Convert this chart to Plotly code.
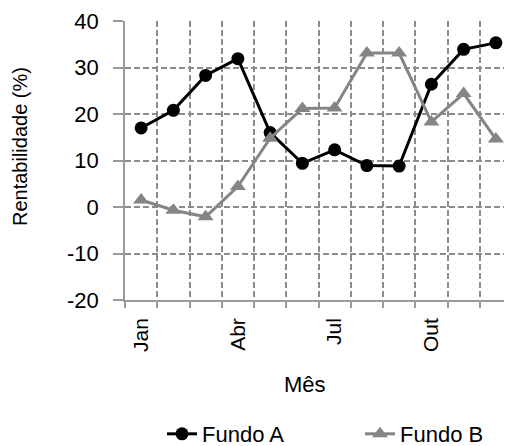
import plotly.graph_objects as go

months = ["Jan", "Fev", "Mar", "Abr", "Mai", "Jun", "Jul", "Ago", "Set", "Out", "Nov", "Dez"]
fundo_a = [17.0, 20.8, 28.3, 31.9, 16.0, 9.4, 12.3, 8.9, 8.8, 26.4, 33.9, 35.3]
fundo_b = [1.5, -0.7, -2.1, 4.4, 14.8, 21.2, 21.3, 33.1, 33.1, 18.3, 24.4, 14.6]
shown_labels = ["Jan", "Abr", "Jul", "Out"]
y_ticks = [-20, -10, 0, 10, 20, 30, 40]
y_tick_text = ["-20", "-10", "0", "10", "20", "30", "40"]

x_pos = list(range(1, len(months) + 1))
label_pos = [months.index(m) + 1 for m in shown_labels]

FONT = "Liberation Sans, Arial, sans-serif"
GRID = "#8c8c8c"
AXIS = "#9a9a9a"

# page offset of the figure inside the browser (body margin)
OFF = 8
W, H = 512 - OFF, 446 - OFF
PL, PR, PT, PB = 125 - OFF, 512 - OFF, 20.5 - OFF, 300.5 - OFF
PW, PH = PR - PL, PB - PT


def px_x(x):
    return (x - OFF - PL) / PW


def px_y(y):
    return (PB - (y - OFF)) / PH


fig = go.Figure()
fig.add_trace(go.Scatter(
    x=x_pos, y=fundo_a, name="Fundo A", mode="lines+markers",
    line=dict(color="black", width=3),
    marker=dict(symbol="circle", size=13, color="black"),
    legend="legend",
))
fig.add_trace(go.Scatter(
    x=x_pos, y=fundo_b, name="Fundo B", mode="lines+markers",
    line=dict(color="#858585", width=3),
    marker=dict(symbol="triangle-up", size=14, color="#858585"),
    legend="legend2",
))

leg_common = dict(orientation="h", xanchor="left", yanchor="middle",
                  y=px_y(435), font=dict(size=22),
                  bgcolor="rgba(0,0,0,0)")

fig.update_layout(
    width=W, height=H,
    margin=dict(l=PL, r=W - PR, t=PT, b=H - PB, autoexpand=False),
    plot_bgcolor="white", paper_bgcolor="white",
    font=dict(family=FONT, size=21, color="black"),
    showlegend=True,
    legend=dict(x=px_x(162), **leg_common),
    legend2=dict(x=px_x(360), **leg_common),
    xaxis=dict(
        range=[0.5, 12.5], automargin=False,
        tickmode="array", tickvals=label_pos, ticktext=shown_labels,
        tickangle=-90, ticks="outside", ticklen=8, tickcolor="rgba(0,0,0,0)",
        showgrid=False, zeroline=False,
        showline=True, linecolor=AXIS, linewidth=1.5,
        minor=dict(tick0=0.5, dtick=1, showgrid=True, gridcolor=GRID,
                   gridwidth=2, griddash="6px,3px",
                   ticks="outside", ticklen=6, tickcolor=AXIS, tickwidth=1.5),
        tickfont=dict(size=21),
    ),
    yaxis=dict(
        range=[-20, 40], automargin=False, tickmode="array",
        tickvals=y_ticks, ticktext=y_tick_text,
        ticks="outside", ticklen=10, tickcolor=AXIS, tickwidth=1.5,
        ticklabelstandoff=10,
        showgrid=True, gridcolor=GRID, gridwidth=2, griddash="6px,3px",
        zeroline=False,
        showline=True, linecolor=AXIS, linewidth=1.5,
        tickfont=dict(size=22),
    ),
    annotations=[
        dict(text="Rentabilidade (%)", xref="paper", yref="paper",
             x=px_x(20), y=px_y(147),
             xanchor="center", yanchor="middle", textangle=-90,
             showarrow=False, font=dict(size=20)),
        dict(text="Mês", xref="paper", yref="paper",
             x=px_x(305), y=px_y(385),
             xanchor="center", yanchor="middle",
             showarrow=False, font=dict(size=22)),
    ],
)

fig.write_html("out.html")
